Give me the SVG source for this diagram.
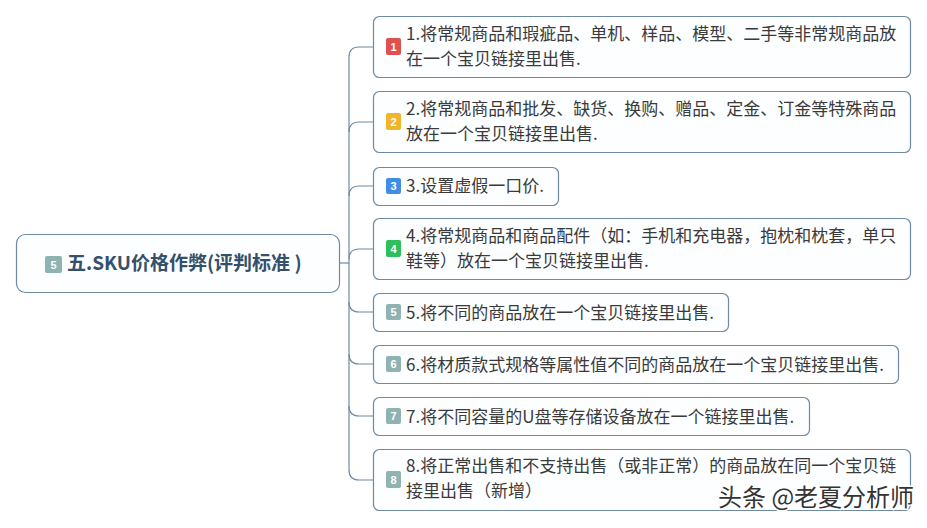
<svg xmlns="http://www.w3.org/2000/svg" width="927" height="528" viewBox="0 0 927 528">
<defs>
<style>
.box{fill:#fdfeff;stroke:#6e8aa2;stroke-width:1.2}
.t{font-family:"Microsoft YaHei","Noto Sans CJK SC","Noto Sans",sans-serif;font-size:17px;fill:#3a3a3a}
.rt{font-family:"Microsoft YaHei","Noto Sans CJK SC","Noto Sans",sans-serif;font-size:19px;font-weight:bold;fill:#34506b}
.n{font-family:"Liberation Sans",Arial,sans-serif;font-size:11px;font-weight:bold;fill:#fff;text-anchor:middle}
.c{fill:none;stroke:#6e8aa2;stroke-width:1.2}
.wm{font-family:"Noto Sans CJK SC",sans-serif;font-size:24px;fill:#333;stroke:#fff;stroke-width:3;paint-order:stroke}
</style>
</defs>
<rect width="927" height="528" fill="#ffffff"/>
<g id="connectors">
<path class="c" d="M340 263 H349"/>
<path class="c" d="M349 57 Q349 47 359 47 H373"/>
<path class="c" d="M349 470 Q349 480 359 480 H373"/>
<path class="c" d="M349 57 V470"/>
<path class="c" d="M349 132 Q349 122 359 122 H373"/>
<path class="c" d="M349 196 Q349 186 359 186 H373"/>
<path class="c" d="M349 259 Q349 249 359 249 H373"/>
<path class="c" d="M349 302 Q349 312 359 312 H373"/>
<path class="c" d="M349 354 Q349 364 359 364 H373"/>
<path class="c" d="M349 406 Q349 416 359 416 H373"/>
</g>
<g id="root">
<rect class="box" x="16.5" y="234.5" width="323" height="58" rx="9"/>
<rect x="45" y="256" width="17" height="17" rx="2" fill="#8fb2b2"/>
<text class="n" x="53.5" y="268.5">5</text>
<text class="rt" x="67" y="270">五.SKU价格作弊(评判标准 )</text>
</g>
<g id="n1">
<rect class="box" x="373.5" y="16.5" width="537" height="61" rx="6"/>
<rect x="386" y="38" width="15" height="17" rx="2" fill="#e0504f"/>
<text class="n" x="393.5" y="50.5">1</text>
<text class="t" x="406" y="40">1.将常规商品和瑕疵品、单机、样品、模型、二手等非常规商品放</text>
<text class="t" x="406" y="65">在一个宝贝链接里出售.</text>
</g>
<g id="n2">
<rect class="box" x="373.5" y="91.5" width="537" height="61" rx="6"/>
<rect x="386" y="113" width="15" height="17" rx="2" fill="#f0b52a"/>
<text class="n" x="393.5" y="125.5">2</text>
<text class="t" x="406" y="115">2.将常规商品和批发、缺货、换购、赠品、定金、订金等特殊商品</text>
<text class="t" x="406" y="140">放在一个宝贝链接里出售.</text>
</g>
<g id="n3">
<rect class="box" x="373.5" y="167.5" width="185" height="38" rx="6"/>
<rect x="386" y="178" width="15" height="16" rx="2" fill="#3f8de4"/>
<text class="n" x="393.5" y="190">3</text>
<text class="t" x="406" y="192">3.设置虚假一口价.</text>
</g>
<g id="n4">
<rect class="box" x="373.5" y="218.5" width="537" height="61" rx="6"/>
<rect x="386" y="240" width="15" height="17" rx="2" fill="#2cbf5b"/>
<text class="n" x="393.5" y="252.5">4</text>
<text class="t" x="406" y="242">4.将常规商品和商品配件（如：手机和充电器，抱枕和枕套，单只</text>
<text class="t" x="406" y="267">鞋等）放在一个宝贝链接里出售.</text>
</g>
<g id="n5">
<rect class="box" x="373.5" y="293.5" width="355" height="38" rx="6"/>
<rect x="386" y="304" width="15" height="16" rx="2" fill="#8fb2b2"/>
<text class="n" x="393.5" y="316">5</text>
<text class="t" x="406" y="319">5.将不同的商品放在一个宝贝链接里出售.</text>
</g>
<g id="n6">
<rect class="box" x="373.5" y="345.5" width="525" height="38" rx="6"/>
<rect x="386" y="356" width="15" height="16" rx="2" fill="#8fb2b2"/>
<text class="n" x="393.5" y="368">6</text>
<text class="t" x="406" y="371">6.将材质款式规格等属性值不同的商品放在一个宝贝链接里出售.</text>
</g>
<g id="n7">
<rect class="box" x="373.5" y="397.5" width="436" height="38" rx="6"/>
<rect x="386" y="408" width="15" height="16" rx="2" fill="#8fb2b2"/>
<text class="n" x="393.5" y="420">7</text>
<text class="t" x="406" y="423">7.将不同容量的U盘等存储设备放在一个链接里出售.</text>
</g>
<g id="n8">
<rect class="box" x="373.5" y="449.5" width="537" height="61" rx="6"/>
<rect x="386" y="471" width="15" height="17" rx="2" fill="#8fb2b2"/>
<text class="n" x="393.5" y="483.5">8</text>
<text class="t" x="406" y="472">8.将正常出售和不支持出售（或非正常）的商品放在同一个宝贝链</text>
<text class="t" x="406" y="497">接里出售（新增）</text>
</g>
<text class="wm" x="718" y="506">头条 @老夏分析师</text>
</svg>
